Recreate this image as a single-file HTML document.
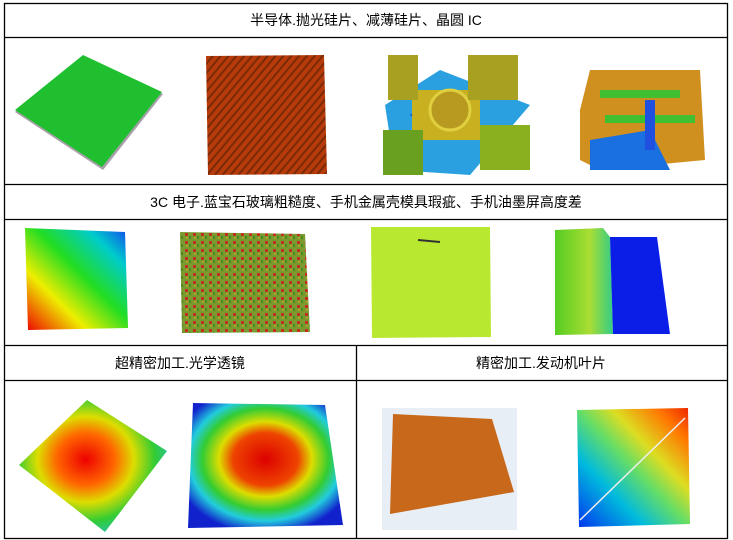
<!DOCTYPE html>
<html><head><meta charset="utf-8"><style>
html,body{margin:0;padding:0;background:#fff;width:733px;height:540px;overflow:hidden}
svg{position:absolute;left:0;top:0}
text{font-family:"Liberation Sans","Noto Sans CJK SC",sans-serif;font-size:14px;fill:#000}
</style></head><body>
<svg width="733" height="540" viewBox="0 0 733 540">
<defs>
<linearGradient id="rb" x1="0" y1="1" x2="1" y2="0">
<stop offset="0" stop-color="#e00"/><stop offset="0.3" stop-color="#ee0"/><stop offset="0.55" stop-color="#2d2"/><stop offset="0.8" stop-color="#0cc"/><stop offset="1" stop-color="#14e"/></linearGradient>
<radialGradient id="lens1" cx="0.45" cy="0.45" r="0.65"><stop offset="0" stop-color="#e00"/><stop offset="0.3" stop-color="#f60"/><stop offset="0.5" stop-color="#dd0"/><stop offset="0.72" stop-color="#3c3"/><stop offset="1" stop-color="#2bd"/></radialGradient>
<radialGradient id="lens2" cx="0.5" cy="0.45" r="0.6"><stop offset="0" stop-color="#d00"/><stop offset="0.35" stop-color="#e40"/><stop offset="0.5" stop-color="#dd0"/><stop offset="0.68" stop-color="#3c3"/><stop offset="0.82" stop-color="#2cd"/><stop offset="1" stop-color="#12c"/></radialGradient>
<linearGradient id="blade" x1="0" y1="1" x2="1" y2="0"><stop offset="0" stop-color="#03e"/><stop offset="0.3" stop-color="#0bd"/><stop offset="0.5" stop-color="#6d6"/><stop offset="0.65" stop-color="#dd2"/><stop offset="0.85" stop-color="#f70"/><stop offset="1" stop-color="#e20"/></linearGradient>
<linearGradient id="strip" x1="0" x2="1"><stop offset="0" stop-color="#5c2"/><stop offset="0.6" stop-color="#ad3"/><stop offset="1" stop-color="#3c8"/></linearGradient>
<pattern id="stripes" width="6" height="6" patternUnits="userSpaceOnUse" patternTransform="rotate(40)"><rect width="6" height="6" fill="#b73a0a"/><rect width="2" height="6" fill="#7a2a05"/></pattern>
<pattern id="rough" width="8" height="8" patternUnits="userSpaceOnUse"><rect width="8" height="8" fill="#7a9a30"/><rect x="1" y="1" width="3" height="3" fill="#c03020"/><rect x="5" y="4" width="2" height="3" fill="#4a8a20"/><rect x="2" y="5" width="2" height="2" fill="#b0a030"/></pattern>
</defs>
<g fill="none" stroke="#000" stroke-width="1.3">
<rect x="4.5" y="3.5" width="723" height="535"/>
<line x1="4" y1="37.5" x2="728" y2="37.5"/>
<line x1="4" y1="184.5" x2="728" y2="184.5"/>
<line x1="4" y1="219.5" x2="728" y2="219.5"/>
<line x1="4" y1="345.5" x2="728" y2="345.5"/>
<line x1="4" y1="380.5" x2="728" y2="380.5"/>
<line x1="356.5" y1="345" x2="356.5" y2="539"/>
</g>
<text x="366" y="25" text-anchor="middle">半导体.抛光硅片、减薄硅片、晶圆 IC</text>
<text x="366" y="207" text-anchor="middle">3C 电子.蓝宝石玻璃粗糙度、手机金属壳模具瑕疵、手机油墨屏高度差</text>
<text x="180" y="368" text-anchor="middle">超精密加工.光学透镜</text>
<text x="541" y="368" text-anchor="middle">精密加工.发动机叶片</text>
<!-- row 2 -->
<polygon points="15,112 83,56 163,94 103,170" fill="#a8a0a8"/>
<polygon points="15,110 83,55 162,92 102,167" fill="#1fbf30"/>
<polygon points="206,56 324,55 327,174 208,175" fill="url(#stripes)"/>
<polygon points="385,105 440,70 530,105 470,175 395,170" fill="#2aa0e0"/>
<polygon points="410,115 440,95 480,115 450,140" fill="#1540d0"/>
<rect x="412" y="90" width="68" height="50" fill="#c8b020" transform="rotate(0)"/>
<circle cx="450" cy="110" r="20" fill="#b89a20" stroke="#e0d040" stroke-width="3"/>
<rect x="388" y="55" width="30" height="45" fill="#a8a020"/><rect x="468" y="55" width="50" height="45" fill="#a8a020"/>
<rect x="383" y="130" width="40" height="45" fill="#6aa020"/><rect x="480" y="125" width="50" height="45" fill="#8ab020"/>
<polygon points="580,110 590,70 700,70 705,160 600,170 580,160" fill="#d09020"/>
<polygon points="590,140 650,130 670,170 590,170" fill="#1a70e0"/>
<rect x="600" y="90" width="80" height="8" fill="#40c030"/><rect x="605" y="115" width="90" height="8" fill="#40c030"/>
<rect x="645" y="100" width="10" height="50" fill="#2050e0"/>
<!-- row 4 -->
<polygon points="25,228 125,232 128,328 28,330" fill="url(#rb)"/>
<polygon points="180,232 305,234 310,332 182,333" fill="url(#rough)"/>
<polygon points="371,227 490,227 491,337 372,338" fill="#b8e830"/>
<line x1="418" y1="240" x2="440" y2="242" stroke="#333" stroke-width="2"/>
<polygon points="555,230 603,228 610,237 613,334 555,335" fill="url(#strip)"/>
<polygon points="610,237 657,237 670,334 613,334" fill="#0a1ee8"/>
<!-- row 6 -->
<polygon points="19,465 87,400 167,451 105,532" fill="url(#lens1)"/>
<polygon points="193,403 325,405 343,525 188,528" fill="url(#lens2)"/>
<rect x="382" y="408" width="135" height="122" fill="#e8eef6"/>
<polygon points="393,414 492,419 514,492 390,514" fill="#c8681a"/>
<polygon points="577,410 688,408 690,524 579,527" fill="url(#blade)"/>
<line x1="580" y1="520" x2="685" y2="418" stroke="#eee" stroke-width="1.5"/>
</svg>
</body></html>
